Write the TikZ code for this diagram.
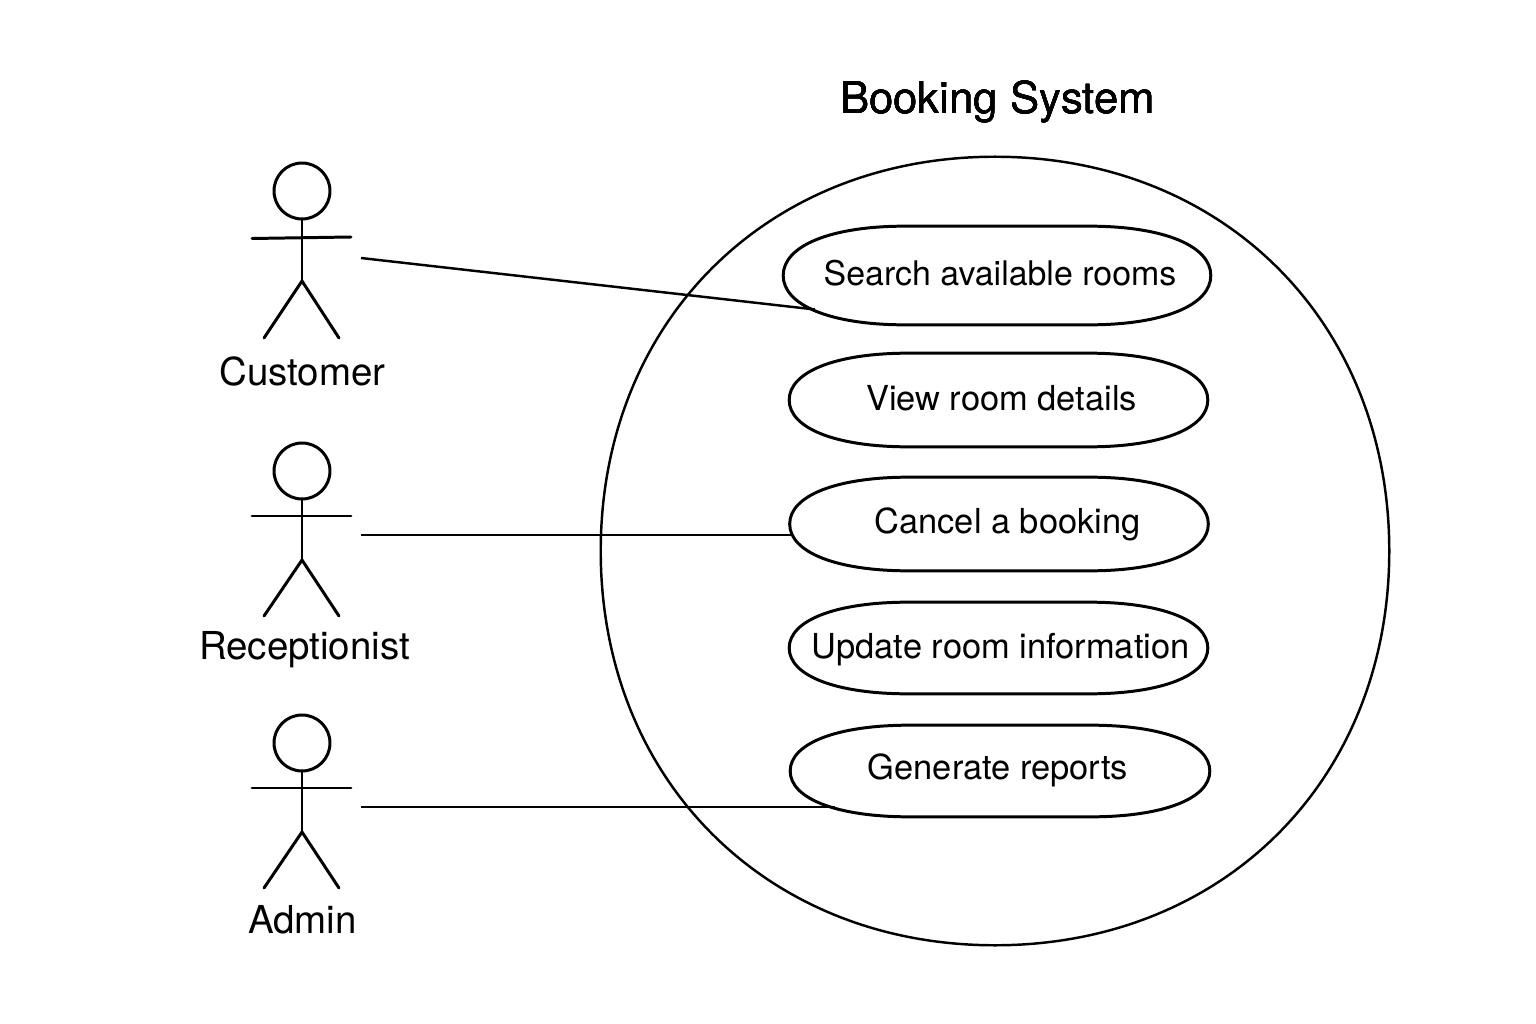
\documentclass[tikz,border=0pt]{standalone}
\usepackage{fontspec}
\setmainfont{TeX Gyre Heros}
\usetikzlibrary{calc}
\tikzset{
  stroke/.style={line width=1.7pt},
  stick/.style={stroke,line cap=round},
  usecase/.style={inner sep=0pt,minimum width=8.36cm,minimum height=1.86cm},
  casetext/.style={inner sep=0pt,anchor=base,font=\fontsize{19.6}{23}\selectfont},
  actortext/.style={inner sep=0pt,anchor=base,font=\fontsize{21.9}{26}\selectfont},
}
% #1 options, #2 node, #3 how far up the side, #4 how far along the top, #5 where the flat part starts
\newcommand{\softoval}[5][]{
  \draw[stroke,#1] (#2.west)
    .. controls ($(#2.west)!#3!(#2.north west)$) and ($(#2.north west)!#4!(#2.north east)$) .. ($(#2.north west)!#5!(#2.north east)$)
    -- ($(#2.north west)!1-#5!(#2.north east)$)
    .. controls ($(#2.north west)!1-#4!(#2.north east)$) and ($(#2.east)!#3!(#2.north east)$) .. (#2.east)
    .. controls ($(#2.east)!#3!(#2.south east)$) and ($(#2.south west)!1-#4!(#2.south east)$) .. ($(#2.south west)!1-#5!(#2.south east)$)
    -- ($(#2.south west)!#5!(#2.south east)$)
    .. controls ($(#2.south west)!#4!(#2.south east)$) and ($(#2.west)!#3!(#2.south west)$) .. (#2.west) -- cycle;
}

\begin{document}
\begin{tikzpicture}[x=0.02cm,y=-0.02cm]
\useasboundingbox (0,0) rectangle (1536,1024);
% system boundary
\node[inner sep=0pt,minimum size=15.76cm] (system) at (995,551) {};
\softoval[line width=1.4pt]{system}{0.58}{0.21}{0.5}
% use cases
\node[usecase,minimum width=8.54cm,minimum height=1.96cm] (search) at (997,275.5) {};
\node[usecase] (view) at (998.5,400) {};
\node[usecase] (cancel) at (999,524) {};
\node[usecase,minimum height=1.82cm] (update) at (998.5,648) {};
\node[usecase,minimum width=8.38cm,minimum height=1.82cm] (generate) at (1000,771) {};
\foreach \n in {search,view,cancel,update,generate}
  \softoval{\n}{0.6}{0.11}{0.285}
% title
\node[inner sep=0pt,anchor=base,font=\fontsize{24.9}{29}\selectfont] (title) at (997.5,114) {Booking System};
\node[casetext,font=\fontsize{19.3}{23}\selectfont] (searchtext) at (1000,285) {Search available rooms};
\node[casetext] (viewtext) at (1001.5,410) {View room details};
\node[casetext] (canceltext) at (1007.5,533) {Cancel a booking};
\node[casetext] (updatetext) at (1000.5,658) {Update room information};
\node[casetext] (generatetext) at (998,779) {Generate reports};
% actors
\foreach \n/\y/\a/\h/\f/\t in {customer/191/46/90/147/1.5,receptionist/471/45/89/145/0,admin/743/45/89/145/0} {
  \node[stroke,draw,circle,inner sep=0pt,minimum size=1.12cm] (\n) at (302,\y) {};
  \draw[stick] (\n.south) -- (302,\y+\h) coordinate (\n hip);
  \draw[stick] (252,\y+\a+\t) -- (351,\y+\a);
  \draw[stick] (264,\y+\f) -- (\n hip) -- (339,\y+\f);
}
\node[actortext] (customertext) at (302.5,385) {Customer};
\node[actortext] (receptionisttext) at (304.5,659) {Receptionist};
\node[actortext] (admintext) at (302.5,933) {Admin};
% associations
\coordinate (customerhand) at (361,258);
\coordinate (receptionisthand) at (361,535);
\coordinate (adminhand) at (361,807);
\coordinate (searchend) at (815,309.5);
\coordinate (cancelend) at (793,535);
\coordinate (generateend) at (835,807);
\draw[stroke,line width=1.4pt] (customerhand) -- (searchend);
\draw[stroke] (receptionisthand) -- (cancelend);
\draw[stroke] (adminhand) -- (generateend);
\end{tikzpicture}
\end{document}
